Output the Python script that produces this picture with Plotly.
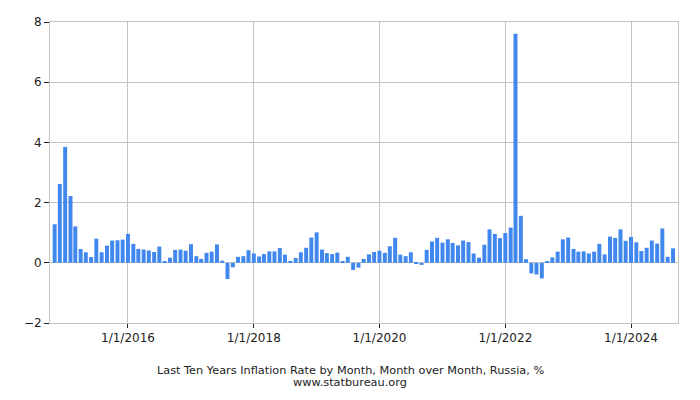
import plotly.graph_objects as go
import pandas as pd

start_month = "2014-11-01"
values = [
    1.28, 2.62,
    3.85, 2.22, 1.21, 0.46, 0.35, 0.19, 0.80, 0.35, 0.57, 0.74, 0.75, 0.77,
    0.96, 0.63, 0.46, 0.44, 0.41, 0.36, 0.54, 0.05, 0.17, 0.43, 0.44, 0.40,
    0.62, 0.22, 0.13, 0.33, 0.37, 0.61, 0.07, -0.54, -0.15, 0.20, 0.22, 0.42,
    0.31, 0.21, 0.29, 0.38, 0.38, 0.49, 0.27, 0.05, 0.16, 0.35, 0.50, 0.84,
    1.01, 0.44, 0.32, 0.29, 0.34, 0.05, 0.20, -0.24, -0.16, 0.13, 0.28, 0.36,
    0.40, 0.33, 0.55, 0.83, 0.27, 0.22, 0.35, -0.04, -0.07, 0.43, 0.71, 0.83,
    0.67, 0.78, 0.66, 0.58, 0.74, 0.69, 0.31, 0.17, 0.60, 1.11, 0.96, 0.82,
    0.99, 1.17, 7.61, 1.56, 0.12, -0.35, -0.39, -0.52, 0.05, 0.18, 0.37, 0.78,
    0.84, 0.46, 0.37, 0.38, 0.31, 0.37, 0.63, 0.28, 0.87, 0.83, 1.11, 0.73,
    0.86, 0.68, 0.39, 0.50, 0.74, 0.64, 1.14, 0.20, 0.48,
]
months = pd.date_range(start_month, periods=len(values), freq="MS")

tick_vals = ["2016-01-01", "2018-01-01", "2020-01-01", "2022-01-01", "2024-01-01"]
tick_text = ["1/1/2016", "1/1/2018", "1/1/2020", "1/1/2022", "1/1/2024"]
y_ticks = [-2, 0, 2, 4, 6, 8]

title_line1 = "Last Ten Years Inflation Rate by Month, Month over Month, Russia, %"
title_line2 = "www.statbureau.org"

fig = go.Figure(go.Bar(
    x=months, y=values,
    width=23 * 86400000,
    marker=dict(color="#4188ee", line=dict(width=0)),
))

plot_h = 400 - 22 - 77
def py(pix):
    return (400 - 77 - pix) / plot_h

fig.update_layout(
    width=700, height=400,
    margin=dict(l=50, r=22, t=22, b=77),
    paper_bgcolor="white", plot_bgcolor="white",
    showlegend=False,
    font=dict(family="DejaVu Sans", size=12, color="#222"),
    annotations=[
        dict(text=title_line1, x=(350 - 50) / 628, xref="paper", y=py(370), yref="paper",
             showarrow=False, font=dict(size=11.3, color="#222"), yanchor="middle", xanchor="center"),
        dict(text=title_line2, x=(350 - 50) / 628, xref="paper", y=py(382.5), yref="paper",
             showarrow=False, font=dict(size=11.3, color="#222"), yanchor="middle", xanchor="center"),
    ],
)

fig.update_xaxes(
    range=["2014-10-05", "2024-09-30"],
    tickvals=tick_vals, ticktext=tick_text,
    showgrid=True, gridcolor="#c4c4c4", gridwidth=1,
    showline=True, linecolor="#c4c4c4", linewidth=1, mirror=True,
    ticks="outside", ticklen=4, tickcolor="#222",
    tickfont=dict(size=12, color="#222"),
    zeroline=False,
)
fig.update_yaxes(
    range=[-2, 8],
    tickvals=y_ticks,
    showgrid=True, gridcolor="#c4c4c4", gridwidth=1,
    showline=True, linecolor="#c4c4c4", linewidth=1, mirror=True,
    ticks="outside", ticklen=5, tickcolor="#222",
    tickfont=dict(size=12, color="#222"),
    zeroline=True, zerolinecolor="#c4c4c4", zerolinewidth=1,
)

fig.write_html("out.html")
